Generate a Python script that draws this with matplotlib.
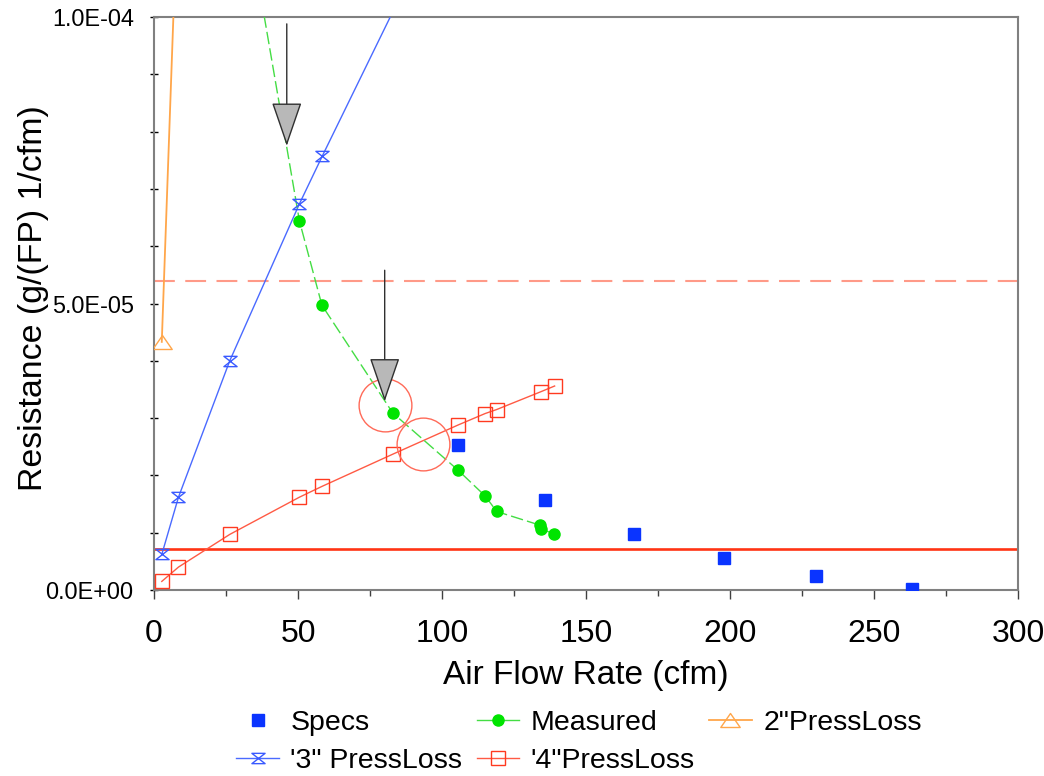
import numpy as np
import matplotlib
matplotlib.use("Agg")
import matplotlib.pyplot as plt
from matplotlib.path import Path

plt.rcParams["font.family"] = ["Liberation Sans", "DejaVu Sans"]

# ------------------------------------------------------- data (resistance in 1e-6 units)
flow_specs = [105.5, 135.6, 166.7, 198.0, 229.9, 263.1]
res_specs = [25.3, 15.7, 9.7, 5.5, 2.4, 0.1]

flow_meas = [26.5, 50.5, 58.3, 82.9, 105.6, 115.0, 119.0, 134.1, 134.5, 139.0]
res_meas = [134.5, 64.4, 49.7, 30.9, 20.9, 16.4, 13.7, 11.3, 10.6, 9.8]

flow_2in = [2.7, 8.5]
res_2in = [43.3, 125.0]

flow_3in = [2.7, 8.5, 26.3, 50.5, 58.4, 82.9]
res_3in = [6.2, 16.2, 40.0, 67.4, 75.7, 100.9]

flow_4in = [2.7, 8.5, 26.3, 50.5, 58.4, 82.9, 105.6, 115.0, 119.0, 134.3, 139.1]
res_4in = [1.5, 4.0, 9.7, 16.2, 18.1, 23.7, 28.8, 30.8, 31.5, 34.6, 35.6]

limit_solid = 7.2
limit_dashed = 53.9

# annotations: arrows (x, y_start, y_end) and circled crossings (x, y)
arrows = [(46.1, 98.8, 77.5), (80.1, 55.8, 32.9)]
circles = [(80.2, 32.3), (93.3, 25.5)]

yticks = [0, 5e-5, 1e-4]
ytick_labels = ["0.0E+00", "5.0E-05", "1.0E-04"]
xticks = [0, 50, 100, 150, 200, 250, 300]

SC = 1e-6

def arr(v):
    return np.array(v) * SC

# hourglass marker
hourglass = Path([(-1, 0.78), (1, 0.78), (-1, -0.78), (1, -0.78), (-1, 0.78)],
                 [Path.MOVETO, Path.LINETO, Path.LINETO, Path.LINETO, Path.CLOSEPOLY])
wide_tri = Path([(0, 0.72), (-1, -0.72), (1, -0.72), (0, 0.72)],
                [Path.MOVETO, Path.LINETO, Path.LINETO, Path.CLOSEPOLY])

fig = plt.figure(figsize=(10.44, 7.76), dpi=100)
ax = fig.add_axes([0.14751, 0.23969, 0.82759, 0.73840])

YMAX = 1e-4

def series(x, y, color, lcolor, marker, ms, ls="-", lw=1.0, fill=False, label=None):
    x = np.array(x)
    y = arr(y)
    ax.plot(x, y, color=lcolor, lw=lw, ls=ls, zorder=3)
    keep = y <= YMAX
    ax.plot(x[keep], y[keep], ls="none", marker=marker, ms=ms,
            mfc=color if fill else "none", mec=color, mew=1.0, zorder=4)
    h, = ax.plot([], [], color=lcolor, lw=lw, ls="-", marker=marker, ms=ms,
                 mfc=color if fill else "none", mec=color, mew=1.0, label=label)
    return h

ax.axhline(limit_dashed * SC, color="#ff9a88", lw=1.5, ls=(0, (10, 5)), zorder=2)
ax.axhline(limit_solid * SC, color="#ff3414", lw=1.9, zorder=2)

h2 = series(flow_2in, res_2in, "#ffa64a", "#ffa64a", wide_tri, 14, lw=1.3,
            label='2"PressLoss')
h3 = series(flow_3in, res_3in, "#3a5aff", "#4a6aff", hourglass, 9.5, lw=1.0,
            label='\'3" PressLoss')
h4 = series(flow_4in, res_4in, "#ff3a20", "#ff5a44", "s", 9.5, lw=1.0,
            label='\'4"PressLoss')
hm = series(flow_meas, res_meas, "#00e400", "#44dd44", "o", 8, ls=(0, (9, 3)),
            lw=1.0, fill=True, label="Measured")
hs, = ax.plot(flow_specs, arr(res_specs), ls="none", marker="s", ms=8,
              color="#0a34ff", zorder=5, label="Specs")

for cx, cy in circles:
    ax.plot(cx, cy * SC, marker="o", ms=38, mfc="none", mec="#ff6a58",
            mew=1.0, zorder=6)

for x, y0, y1 in arrows:
    ax.annotate("", xy=(x, y1 * SC), xytext=(x, y0 * SC),
                arrowprops=dict(arrowstyle="-|>,head_length=2.85,head_width=0.98",
                                fc="#b8b8b8", ec="#303030", lw=1.0,
                                shrinkA=0, shrinkB=0), zorder=7)

ax.set_xlim(0, 300)
ax.set_ylim(0, YMAX)

ax.set_xticks(xticks)
ax.set_xticks(np.arange(0, 301, 25), minor=True)
ax.set_yticks(yticks, ytick_labels)
ax.set_yticks(np.arange(0, 1.0001e-4, 1e-5), minor=True)

ax.tick_params(axis="x", which="major", direction="out", length=6.5, width=1,
               color="#404040", labelsize=23, pad=14.5)
ax.tick_params(axis="x", which="minor", direction="out", length=4.3, width=1,
               color="#404040")
ax.tick_params(axis="y", which="both", direction="inout", length=6.2, width=1,
               color="black", labelsize=16.8, pad=11.5)

for s in ax.spines.values():
    s.set_color("#808080")
    s.set_linewidth(1.5)

ax.set_xlabel("Air Flow Rate (cfm)", fontsize=24, va="top")
ax.xaxis.set_label_coords(0.5, -0.122)
ax.set_ylabel("Resistance (g/(FP) 1/cfm)", fontsize=24.4)
ax.yaxis.set_label_coords(-0.122, 0.51)

fig.legend([hs, h3, hm, h4, h2],
           ["Specs", '\'3" PressLoss', "Measured", '\'4"PressLoss', '2"PressLoss'],
           ncol=3, loc="center", bbox_to_anchor=(579 / 1044, 1 - 742 / 776),
           frameon=False, fontsize=20.5, handlelength=1.5, handletextpad=0.4,
           columnspacing=0.5, labelspacing=0.45, borderpad=0)

fig.savefig("out.png", dpi=100)
